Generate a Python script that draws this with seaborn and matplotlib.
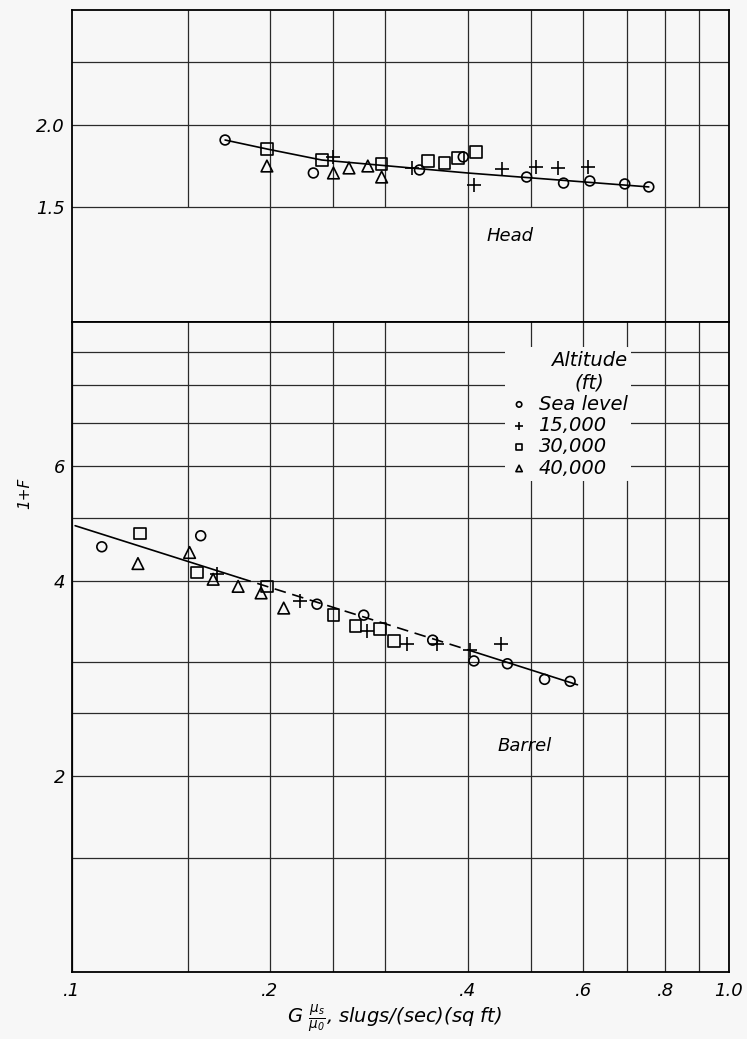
import pandas as pd
import matplotlib
matplotlib.use('Agg')
import matplotlib.pyplot as plt
import matplotlib.ticker as mticker
import seaborn as sns

# Altitude groups and their symbols
altitudes = ['Sea level', '15,000', '30,000', '40,000']
markers = ['o', '+', 's', '^']
marker_sizes = [50, 90, 70, 70]

# Head data
head_sea_x = [0.171, 0.233, 0.338, 0.394, 0.492, 0.560, 0.614, 0.694, 0.755]
head_sea_y = [1.898, 1.690, 1.708, 1.788, 1.666, 1.631, 1.643, 1.626, 1.609]
head_15k_x = [0.250, 0.329, 0.409, 0.452, 0.508, 0.549, 0.610]
head_15k_y = [1.788, 1.720, 1.620, 1.714, 1.726, 1.720, 1.726]
head_30k_x = [0.198, 0.240, 0.296, 0.348, 0.369, 0.387, 0.412]
head_30k_y = [1.839, 1.769, 1.744, 1.763, 1.750, 1.781, 1.820]
head_40k_x = [0.198, 0.250, 0.264, 0.282, 0.296]
head_40k_y = [1.732, 1.690, 1.720, 1.732, 1.666]

# Head faired curve
head_fit_x = [0.171, 0.198, 0.240, 0.400, 0.755]
head_fit_y = [1.898, 1.839, 1.769, 1.690, 1.609]

# Barrel data
barrel_sea_x = [0.111, 0.157, 0.236, 0.278, 0.354, 0.409, 0.460, 0.524, 0.573]
barrel_sea_y = [4.51, 4.69, 3.68, 3.54, 3.24, 3.01, 2.98, 2.82, 2.80]
barrel_15k_x = [0.166, 0.222, 0.281, 0.324, 0.360, 0.404, 0.449]
barrel_15k_y = [4.09, 3.72, 3.35, 3.20, 3.20, 3.13, 3.20]
barrel_30k_x = [0.127, 0.155, 0.198, 0.250, 0.270, 0.294, 0.309]
barrel_30k_y = [4.73, 4.12, 3.92, 3.54, 3.41, 3.37, 3.23]
barrel_40k_x = [0.126, 0.151, 0.164, 0.179, 0.194, 0.210]
barrel_40k_y = [4.25, 4.42, 4.02, 3.92, 3.83, 3.63]

# Barrel faired line (solid / dashed / solid pieces)
barrel_fit1_x = [0.1011, 0.180]
barrel_fit1_y = [4.86, 4.04]
barrel_fit2_x = [0.180, 0.410]
barrel_fit2_y = [4.04, 3.107]
barrel_fit3_x = [0.410, 0.588]
barrel_fit3_y = [3.107, 2.766]

# Axis ticks and grid
x_ticks = [0.1, 0.2, 0.4, 0.6, 0.8, 1.0]
x_tick_labels = ['.1', '.2', '.4', '.6', '.8', '1.0']
x_grid = [0.15, 0.2, 0.25, 0.3, 0.4, 0.5, 0.6, 0.7, 0.8, 0.9]
x_grid_head_low = [0.2, 0.4, 0.6, 0.8]
head_y_ticks = [1.5, 2.0]
head_y_tick_labels = ['1.5', '2.0']
head_y_minor = [2.5]
barrel_y_ticks = [2, 4, 6]
barrel_y_tick_labels = ['2', '4', '6']
barrel_y_minor = [1.5, 2.5, 3, 5, 7, 8, 9]


def make_df(groups):
    rows = []
    for alt, (xs, ys) in zip(altitudes, groups):
        for x, y in zip(xs, ys):
            rows.append({'Altitude': alt, 'G': x, 'F1': y})
    return pd.DataFrame(rows)


head_df = make_df([(head_sea_x, head_sea_y), (head_15k_x, head_15k_y),
                   (head_30k_x, head_30k_y), (head_40k_x, head_40k_y)])
barrel_df = make_df([(barrel_sea_x, barrel_sea_y), (barrel_15k_x, barrel_15k_y),
                     (barrel_30k_x, barrel_30k_y), (barrel_40k_x, barrel_40k_y)])

sns.set_theme(style='white')
plt.rcParams['font.family'] = ['DejaVu Sans']
plt.rcParams['font.style'] = 'italic'
plt.rcParams['mathtext.fontset'] = 'dejavusans'
for key in ['text.color', 'axes.labelcolor', 'xtick.color', 'ytick.color', 'legend.labelcolor']:
    plt.rcParams[key] = 'black'

bg = '#f7f7f7'
gridc = '#2a2a2a'

fig = plt.figure(figsize=(7.47, 10.39), dpi=100, facecolor=bg)
ax_head = fig.add_axes([72 / 747, 1 - 322 / 1039, 657 / 747, 312 / 1039])
ax_bar = fig.add_axes([72 / 747, 1 - 972 / 1039, 657 / 747, 650 / 1039])

for ax in (ax_head, ax_bar):
    ax.set_facecolor(bg)
    ax.set_xscale('log')
    ax.set_yscale('log')
    ax.set_xlim(0.1, 1.0)
    for sp in ax.spines.values():
        sp.set_color('black')
        sp.set_linewidth(1.3)

ax_head.set_ylim(1, 3)
ax_bar.set_ylim(1, 10)


def draw_points(ax, df):
    for alt, m, s in zip(altitudes, markers, marker_sizes):
        sub = df[df['Altitude'] == alt]
        if m == '+':
            sns.scatterplot(data=sub, x='G', y='F1', marker=m, s=s, color='black',
                            linewidth=1.2, ax=ax, label=alt, zorder=3)
        else:
            sns.scatterplot(data=sub, x='G', y='F1', marker=m, s=s, facecolor='none',
                            edgecolor='black', linewidth=1.2, ax=ax, label=alt, zorder=3)


# faired curves
sns.lineplot(x=head_fit_x, y=head_fit_y, color='black', lw=1.2, ax=ax_head,
             estimator=None, sort=False, zorder=2)
sns.lineplot(x=barrel_fit1_x, y=barrel_fit1_y, color='black', lw=1.2, ax=ax_bar,
             estimator=None, sort=False, zorder=2)
sns.lineplot(x=barrel_fit2_x, y=barrel_fit2_y, color='black', lw=1.2, ax=ax_bar,
             estimator=None, sort=False, zorder=2, linestyle=(0, (7, 4)))
sns.lineplot(x=barrel_fit3_x, y=barrel_fit3_y, color='black', lw=1.2, ax=ax_bar,
             estimator=None, sort=False, zorder=2)

draw_points(ax_head, head_df)
draw_points(ax_bar, barrel_df)

# ticks
for ax in (ax_head, ax_bar):
    ax.set_xticks(x_ticks)
    ax.set_xticks([], minor=True)
    ax.tick_params(which='both', length=0, labelsize=13)
    ax.set_xlabel('')
    ax.set_ylabel('')
    if ax.get_legend() is not None:
        ax.get_legend().remove()

ax_head.set_xticklabels([])
ax_bar.set_xticklabels(x_tick_labels)
ax_bar.tick_params(axis='x', pad=7)
ax_head.tick_params(axis='y', pad=5)
ax_bar.tick_params(axis='y', pad=5)

ax_head.set_yticks(head_y_ticks, labels=head_y_tick_labels)
ax_head.set_yticks(head_y_minor, minor=True)
ax_head.yaxis.set_minor_formatter(mticker.NullFormatter())
ax_bar.set_yticks(barrel_y_ticks, labels=barrel_y_tick_labels)
ax_bar.set_yticks(barrel_y_minor, minor=True)
ax_bar.yaxis.set_minor_formatter(mticker.NullFormatter())
ax_bar.set_xticks(x_grid, minor=True)
ax_bar.xaxis.set_minor_formatter(mticker.NullFormatter())

# grid
ax_head.yaxis.grid(True, which='both', color=gridc, lw=0.9)
ax_head.vlines(x_grid, 1.5, 3, colors=gridc, lw=0.9, zorder=0.5)
ax_head.vlines(x_grid_head_low, 1.0, 1.5, colors=gridc, lw=0.9, zorder=0.5)
ax_bar.grid(True, which='both', axis='both', color=gridc, lw=0.9)
for ax in (ax_head, ax_bar):
    ax.set_axisbelow(True)

# panel labels
ax_head.text(0.464, 1.353, 'Head', fontsize=13, ha='center', va='center')
ax_bar.text(0.489, 2.224, 'Barrel', fontsize=13, ha='center', va='center')

# legend
leg = ax_bar.legend(title='Altitude\n(ft)', loc='upper left', bbox_to_anchor=(0.645, 0.976),
                    frameon=True, facecolor=bg, edgecolor='none', framealpha=1,
                    fontsize=14, title_fontsize=14, markerscale=0.55, handletextpad=0.5,
                    labelspacing=0.12, borderpad=0.2, handlelength=1.0, alignment='right')
leg.get_title().set_multialignment('center')
leg.get_title().set_color('black')

fig.text(25 / 747, 1 - 493 / 1039, '1+F', rotation=90, fontsize=11, ha='center', va='center')
fig.text(395 / 747, 1 - 1035 / 1039, r'$G\ \frac{\mu_s}{\mu_0}$, slugs/(sec)(sq ft)',
         fontsize=14, ha='center', va='bottom')

fig.savefig('out.png', dpi=100, facecolor=bg)
